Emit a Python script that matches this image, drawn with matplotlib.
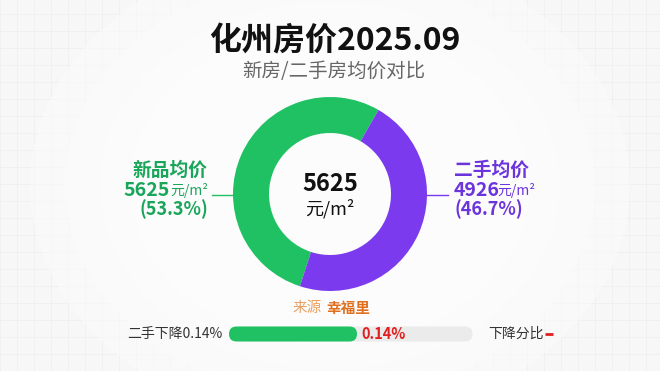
import numpy as np
import matplotlib
matplotlib.use("Agg")
import matplotlib.pyplot as plt
from matplotlib.patches import FancyBboxPatch, Ellipse

plt.rcParams["font.family"] = ["Noto Sans CJK SC", "DejaVu Sans"]

# data
labels = ["新品均价", "二手均价"]
prices = [5625, 4926]
shares = ["53.3%", "46.7%"]
center_value = 5625
drop_pct = "0.14%"
bar_fraction = 0.51   # filled part of the bottom bar as drawn

GREEN, PURPLE = "#1fc163", "#7b3aed"
GREEN_T, PURPLE_T = "#1aa65a", "#6b34dc"
W, H = 660, 371


def Y(y):  # pixel row -> data y
    return H - y


fig = plt.figure(figsize=(6.6, 3.71), dpi=100)
fig.patch.set_facecolor("#f7f7f7")
ax = fig.add_axes([0, 0, 1, 1])
ax.set_facecolor("#f7f7f7")

# faint background grid + soft white centre
for gx in np.arange(0, W, 17):
    ax.axvline(gx, color="#efefef", lw=0.6, zorder=0)
for gy in np.arange(0, H, 17):
    ax.axhline(gy, color="#efefef", lw=0.6, zorder=0)
for w_, a_ in [(600, 0.5), (530, 0.6), (460, 0.8), (400, 1.0)]:
    ax.add_patch(Ellipse((W / 2, H / 2), w_, w_ * 0.8, fc="#fcfcfc", ec="none",
                         alpha=a_, zorder=0.5))

cx, cy, R = 330, 194, 97
ax.pie(prices, colors=[GREEN, PURPLE], startangle=60, counterclock=True,
       center=(cx, Y(cy)), radius=R,
       wedgeprops=dict(width=36, edgecolor="none", zorder=2))
ax.set_xlim(0, W); ax.set_ylim(0, H); ax.axis("off")

# titles
ax.text(cx + 5, Y(41), "化州房价2025.09", ha="center", va="center",
        fontsize=23, fontweight="heavy", color="#111")
ax.text(cx + 4, Y(71), "新房/二手房均价对比", ha="center", va="center",
        fontsize=14, color="#666")

# center label
ax.text(cx, Y(184), f"{center_value}", ha="center", va="center",
        fontsize=17, fontweight="bold", color="#111")
ax.text(cx, Y(209), "元/m²", ha="center", va="center", fontsize=13, color="#111")

# left label
ax.text(208, Y(170), labels[0], ha="right", va="center", fontsize=13.5,
        fontweight="bold", color=GREEN_T)
ax.text(170, Y(190), f"{prices[0]}", ha="right", va="center", fontsize=14,
        fontweight="bold", color=GREEN_T)
ax.text(170, Y(191), "元/m²", ha="left", va="center", fontsize=10, color=GREEN_T)
ax.text(208, Y(209), f"({shares[0]})", ha="right", va="center", fontsize=13,
        fontweight="bold", color=GREEN_T)
ax.plot([212, 233], [Y(195), Y(195)], color=GREEN, lw=1)

# right label
ax.text(454, Y(170), labels[1], ha="left", va="center", fontsize=13.5,
        fontweight="bold", color=PURPLE_T)
ax.text(454, Y(190), f"{prices[1]}", ha="left", va="center", fontsize=14,
        fontweight="bold", color=PURPLE_T)
ax.text(497, Y(191), "元/m²", ha="left", va="center", fontsize=10, color=PURPLE_T)
ax.text(455, Y(209), f"({shares[1]})", ha="left", va="center", fontsize=13,
        fontweight="bold", color=PURPLE_T)
ax.plot([427, 448], [Y(195), Y(195)], color=PURPLE, lw=1)

# source
ax.text(322, Y(308), "来源", ha="right", va="center", fontsize=10.5, color="#e8a060")
ax.text(326, Y(308), "幸福里", ha="left", va="center", fontsize=10.5,
        fontweight="bold", color="#e0701e")

# bottom bar
bx0, bx1, by, bh = 229, 480, 334, 15
ax.add_patch(FancyBboxPatch((bx0 + bh / 2, Y(by) - bh / 2), bx1 - bx0 - bh, bh,
                            boxstyle=f"round,pad=0,rounding_size={bh/2}",
                            fc="#ebebeb", ec="none", zorder=2))
ax.add_patch(FancyBboxPatch((bx0, Y(by) - bh / 2), (bx1 - bx0) * bar_fraction, bh,
                            boxstyle=f"round,pad=0,rounding_size={bh/2}",
                            fc=GREEN, ec="none", zorder=3))
ax.text(bx0 + (bx1 - bx0) * bar_fraction + 4, Y(by), drop_pct, ha="left", va="center",
        fontsize=10.5, fontweight="bold", color="#e02020", zorder=4)
ax.text(222, Y(by), f"二手下降{drop_pct}", ha="right", va="center",
        fontsize=10, color="#333")
ax.text(488, Y(by), "下降分比", ha="left", va="center", fontsize=10, color="#333")
ax.plot([545, 553], [Y(by), Y(by)], color="#e02020", lw=2, solid_capstyle="butt")

fig.savefig("out.png", dpi=100, facecolor=fig.get_facecolor())
